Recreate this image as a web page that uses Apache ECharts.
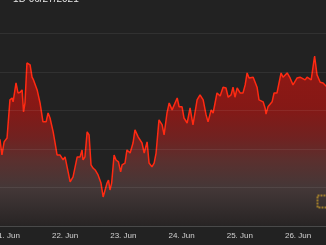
<!DOCTYPE html>
<html>
<head>
<meta charset="utf-8">
<script src="https://cdn.jsdelivr.net/npm/echarts@6/dist/echarts.min.js"></script>
<style>
html,body{margin:0;padding:0;background:#222222;}
#c{width:326px;height:245px;}
</style>
</head>
<body>
<div id="c"></div>
<script>
// hours since 21 Jun 00:00
const hours = [-4.0,-2.8,-2.0,-1.1,0.1,1.3,2.2,2.6,3.8,4.6,
5.5,6.3,6.9,7.5,8.3,9.6,10.4,11.0,11.6,12.5,
13.7,14.9,16.2,17.0,17.8,19.1,19.9,20.7,21.9,23.2,
24.0,24.8,26.1,26.9,27.3,29.0,30.2,31.0,31.4,32.2,
33.1,33.9,34.7,35.5,36.4,37.6,38.8,39.7,40.5,41.3,
41.9,42.5,43.2,44.2,45.0,46.0,46.9,47.5,48.7,49.5,
50.8,52.0,52.8,54.1,55.7,56.6,57.8,58.6,59.8,60.7,
61.5,62.7,64.0,64.8,66.0,66.9,68.1,68.7,70.2,71.0,
72.2,73.0,74.3,75.5,76.7,78.4,79.6,80.9,82.1,82.9,
84.2,85.0,85.8,86.6,87.9,89.1,90.3,91.2,92.4,93.2,
94.0,94.9,96.1,97.3,98.2,99.0,99.8,101.5,103.1,103.9,
105.6,106.4,106.8,107.6,109.3,110.1,111.3,113.0,113.8,115.5,
116.7,117.9,119.6,120.8,122.9,123.7,125.4,126.2,126.8,127.8,
129.1,130.3,131.5,132.8];
const prices = [32330,32230,31840,32180,32280,33270,33320,33220,33710,33450,
33470,33530,32960,33190,34230,34180,33860,33790,33790,33530,
33190,32700,32700,32930,32800,32440,32150,31840,31840,31710,
31790,31760,31140,31140,31270,31790,31790,31970,31710,31790,
32440,32360,31580,31500,31450,31320,31110,30750,30930,31110,
31190,30930,31110,31840,31710,31660,31400,31580,31630,31970,
31890,32150,32490,32310,32150,31890,32180,31630,31530,31630,
31890,32750,32620,32360,32930,33190,33010,33060,33320,33090,
33090,32800,32670,33060,32620,33270,33400,33270,32880,32700,
33010,32930,33190,33450,33370,33600,33580,33340,33400,33600,
33340,33580,33450,33450,33660,33970,33840,33860,33600,33270,
33220,33060,32900,33090,33220,33450,33450,33970,33860,33970,
33840,33660,33840,33860,33790,33860,33790,33790,34410,33920,
33730,33710,33630,33630];
const dayHours = [0,24,48,72,96,120];
const dayLabels = ['21. Jun','22. Jun','23. Jun','24. Jun','25. Jun','26. Jun'];
const headerText = '· 1D 06/27/2021';

const chart = echarts.init(document.getElementById('c'), null, {renderer:'canvas'});
chart.setOption({
  backgroundColor:'#222222',
  animation:false,
  grid:{left:0,right:0,top:33.3,bottom:19.2,containLabel:false,outerBoundsMode:'none'},
  xAxis:{
    type:'value', min:-2.8, max:131.5,
    axisLine:{show:true,lineStyle:{color:'#3c3c3c',width:1}},
    axisTick:{show:false},
    splitLine:{show:false},
    axisLabel:{
      customValues:dayHours,
      color:'#d2d2d2', fontSize:8, fontFamily:'Arial, Liberation Sans', margin:6,
      formatter:v=>dayLabels[dayHours.indexOf(v)] || ''
    }
  },
  yAxis:{
    type:'value', min:30000, max:35000, interval:1000, z:5,
    axisLine:{show:false}, axisTick:{show:false}, axisLabel:{show:false},
    splitLine:{show:true,lineStyle:{color:'rgba(255,255,255,0.07)',width:1}}
  },
  series:[{
    type:'line',
    data:hours.map((h,i)=>[h,prices[i]]),
    symbol:'none',
    smooth:false,
    lineStyle:{color:'#ff2a12',width:1.5},
    areaStyle:{
      color:new echarts.graphic.LinearGradient(0,0,0,1,[
        {offset:0,color:'#c2140f'},
        {offset:0.3,color:'#b01410'},
        {offset:0.48,color:'#922220'},
        {offset:0.62,color:'#723634'},
        {offset:0.78,color:'#524141'},
        {offset:1,color:'#2a2525'}
      ])
    }
  }],
  graphic:[
    {type:'text', left:7, top:-6, z:10,
     style:{text:headerText, fill:'#e6e6e6', font:'10px Arial, Liberation Sans'}},
    {type:'rect', left:315, top:193, z:10,
     shape:{x:0,y:0,width:12,height:12},
     style:{fill:'none', stroke:'#b8902a', lineWidth:2, lineDash:[2,1], opacity:0.8}}
  ]
});
</script>
</body>
</html>
